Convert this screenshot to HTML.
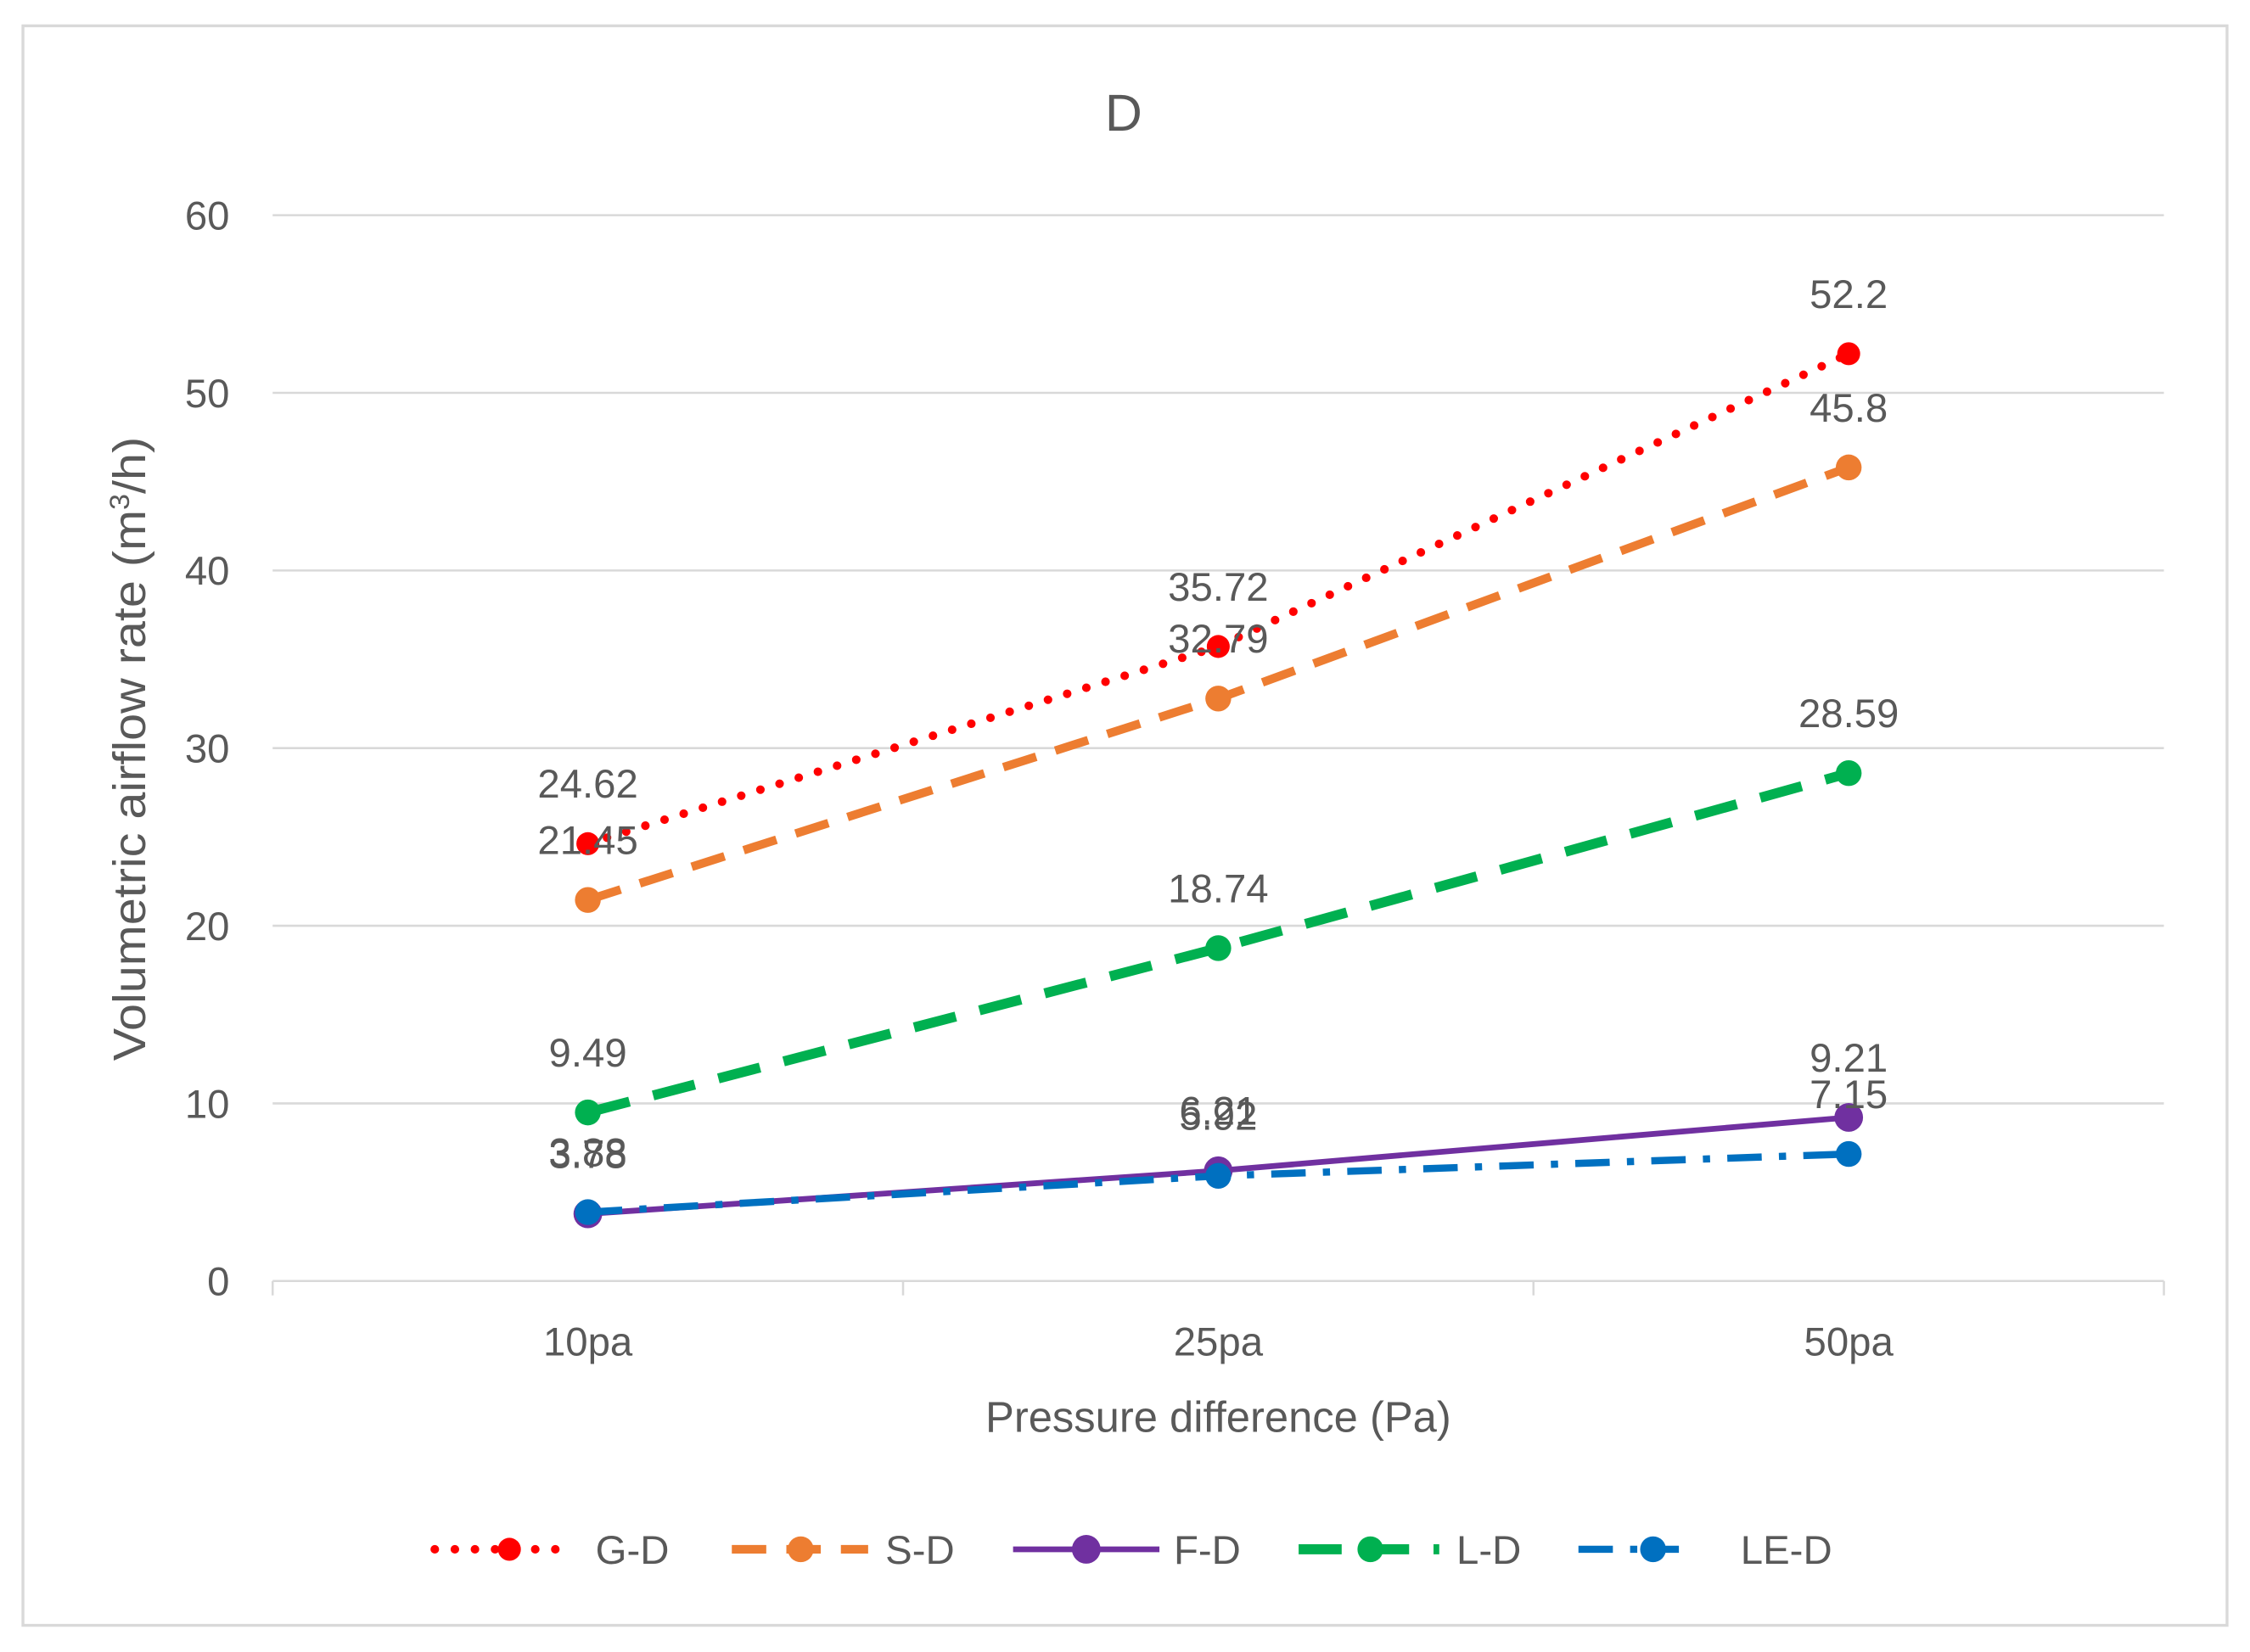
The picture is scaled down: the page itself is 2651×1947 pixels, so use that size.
<!DOCTYPE html>
<html><head><meta charset="utf-8"><style>
html,body{margin:0;padding:0;background:#fff;}
svg{display:block;}
text{font-family:"Liberation Sans",sans-serif;fill:#595959;}
</style></head><body>
<svg id="chart" width="2651" height="1947" viewBox="0 0 1568 1151.6" xmlns="http://www.w3.org/2000/svg">
<rect x="16" y="18" width="1536" height="1115" fill="#fff" stroke="#d9d9d9" stroke-width="2"/>
<text x="783" y="91" font-size="36" text-anchor="middle">D</text>
<g id="grid"></g><g id="series"></g><g id="labels"></g>
<text x="849" y="998" font-size="30" text-anchor="middle">Pressure difference (Pa)</text>
<text transform="translate(101,522) rotate(-90)" font-size="32" text-anchor="middle" textLength="435" lengthAdjust="spacingAndGlyphs">Volumetric airflow rate (m<tspan font-size="19" dy="-11">3</tspan><tspan dy="11">/h)</tspan></text>
<g id="legend"></g>
</svg>
<script>
const categories=["10pa","25pa","50pa"];
const yTicks=[0,10,20,30,40,50,60];
const seriesNames=["G-D","S-D","F-D","L-D","LE-D"];
const gd=[24.62,35.72,52.2];
const sd=[21.45,32.79,45.8];
const fd=[3.78,6.21,9.21];
const ld=[9.49,18.74,28.59];
const led=[3.88,5.92,7.15];
const NS="http://www.w3.org/2000/svg";
const L=190,R=1508,T=150,B=893;
const xS=i=>L+(R-L)/categories.length*(i+0.5);
const yS=v=>B-(v/60)*(B-T);
function mk(tag,attrs,parent){const e=document.createElementNS(NS,tag);for(const k in attrs)e.setAttribute(k,attrs[k]);parent.appendChild(e);return e;}
const grid=document.getElementById('grid');
yTicks.forEach(t=>{
 const l=mk('line',{x1:L,x2:R,y1:yS(t),y2:yS(t),stroke:'#d9d9d9','stroke-width':1.5},grid);
 
 
 const tx=mk('text',{x:160,y:yS(t)+10,'font-size':28,'text-anchor':'end'},grid);tx.textContent=t;
 
 
});
for(let i=0;i<=categories.length;i++){const x=L+(R-L)/categories.length*i;const tk=mk('line',{x1:x,x2:x,y1:B,y2:B+10,stroke:'#d9d9d9','stroke-width':1.5},grid);
 
 }
categories.forEach((c,i)=>{const tx=mk('text',{x:xS(i),y:945,'font-size':28,'text-anchor':'middle'},grid);tx.textContent=c;
 
 });
const styles=[
 {d:gd,c:'#ff0000',w:6,dash:'0 14',cap:'round',r:8},
 {d:sd,c:'#ed7d31',w:6,dash:'24 14',cap:'butt',r:9},
 {d:fd,c:'#7030a0',w:4,dash:'',cap:'butt',r:10},
 {d:ld,c:'#00b050',w:7,dash:'30 17',cap:'butt',r:9},
 {d:led,c:'#0070c0',w:5,dash:'24 12 5 12',cap:'butt',r:9}];
const sg=document.getElementById('series'),lg=document.getElementById('labels');
styles.forEach((s,k)=>{
 const pts=s.d.map((v,i)=>xS(i)+','+yS(v)).join(' ');
 const pl=mk('polyline',{points:pts,fill:'none',stroke:s.c,'stroke-width':s.w,'stroke-dasharray':s.dash,'stroke-linecap':s.cap},sg);
 
 
 s.d.forEach((v,i)=>{
  const m=mk('circle',{cx:xS(i),cy:yS(v),r:s.r,fill:s.c},sg);
  
  
  const t=mk('text',{x:xS(i),y:yS(v)-32,'font-size':28,'text-anchor':'middle'},lg);t.textContent=v;
  
  
 });
});
const leg=document.getElementById('legend');
const lx=[[303,395,355,415],[510,605,558,617],[706,808,757,818],[905,1003,955,1015],[1100,1170,1152,1213]];
styles.forEach((s,k)=>{
 const g=mk('g',{},leg);
 
 
 const p=lx[k];
 mk('line',{x1:p[0],x2:p[1],y1:1080,y2:1080,stroke:s.c,'stroke-width':s.w,'stroke-dasharray':s.dash,'stroke-linecap':s.cap},g);
 mk('circle',{cx:p[2],cy:1080,r:s.r,fill:s.c},g);
 const t=mk('text',{x:p[3],y:1090,'font-size':28},g);t.textContent=seriesNames[k];
});
</script>
</body></html>
